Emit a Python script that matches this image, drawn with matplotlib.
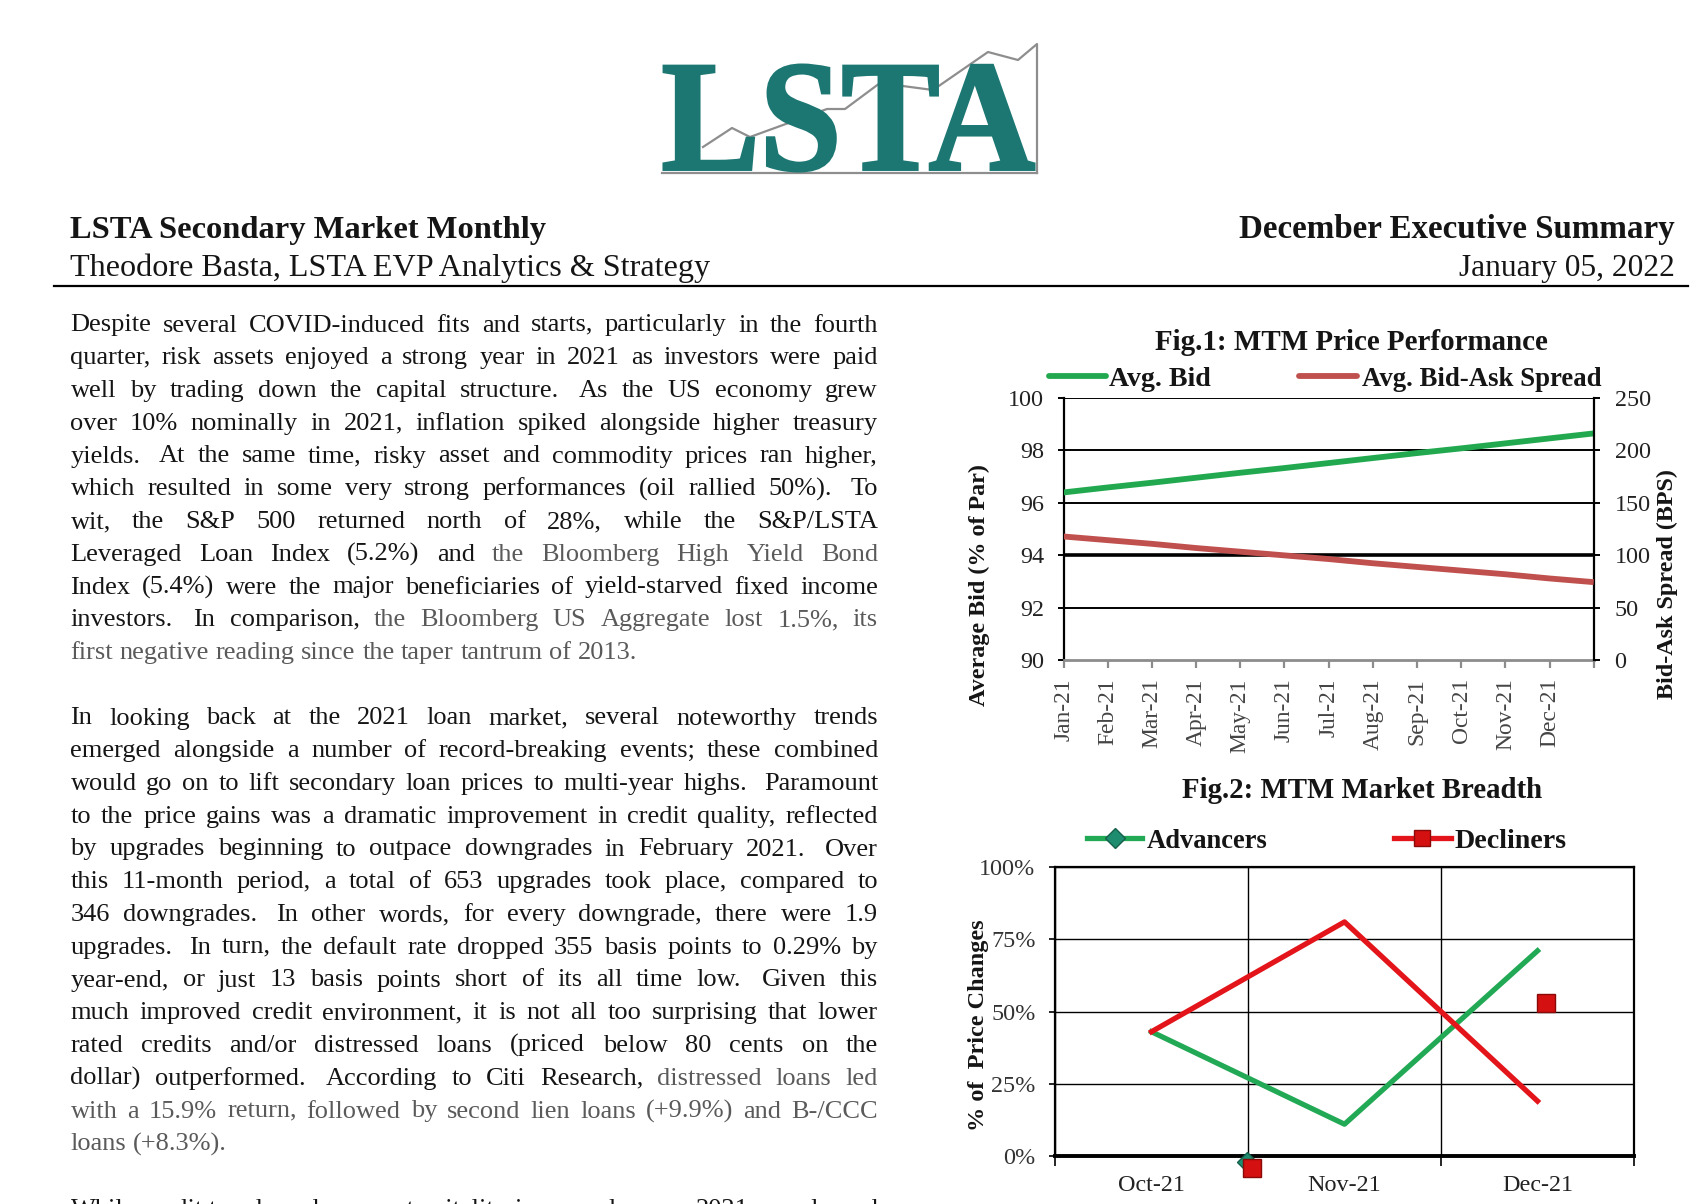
import matplotlib
matplotlib.use('Agg')
import matplotlib.pyplot as plt
from matplotlib.textpath import TextPath
from matplotlib.patches import PathPatch
from matplotlib.font_manager import FontProperties
from matplotlib.transforms import Affine2D
from matplotlib.ticker import PercentFormatter, NullFormatter

# ---------------- data ----------------
fig1_months = ['Jan-21', 'Feb-21', 'Mar-21', 'Apr-21', 'May-21', 'Jun-21', 'Jul-21',
               'Aug-21', 'Sep-21', 'Oct-21', 'Nov-21', 'Dec-21', '']
avg_bid = [96.40, 96.59, 96.77, 96.96, 97.15, 97.33, 97.52, 97.71, 97.90, 98.08, 98.27, 98.46, 98.65]
avg_spread = [118, 114.5, 111, 107, 103.5, 100, 96.5, 92.5, 89, 85.5, 82, 78, 74.5]
fig1_left_ticks = [90, 92, 94, 96, 98, 100]
fig1_right_ticks = [0, 50, 100, 150, 200, 250]

fig2_months = ['Oct-21', 'Nov-21', 'Dec-21']
advancers = [0.43, 0.11, 0.71]
decliners = [0.43, 0.81, 0.19]
fig2_yticks = [0, 0.25, 0.50, 0.75, 1.0]
# misplaced markers visible in the original chart
stray_adv_x, stray_adv_y = [0.495], [-0.021]
stray_dec_x, stray_dec_y = [0.52, 2.045], [-0.042, 0.53]

header_left = ['LSTA Secondary Market Monthly', 'Theodore Basta, LSTA EVP Analytics & Strategy']
header_right = ['December Executive Summary', 'January 05, 2022']
fig1_title = 'Fig.1: MTM Price Performance'
fig2_title = 'Fig.2: MTM Market Breadth'

para1 = [
    "Despite several COVID-induced fits and starts, particularly in the fourth",
    "quarter, risk assets enjoyed a strong year in 2021 as investors were paid",
    "well by trading down the capital structure.  As the US economy grew",
    "over 10% nominally in 2021, inflation spiked alongside higher treasury",
    "yields.  At the same time, risky asset and commodity prices ran higher,",
    "which resulted in some very strong performances (oil rallied 50%).  To",
    "wit, the S&P 500 returned north of 28%, while the S&P/LSTA",
    "Leveraged Loan Index (5.2%) and the Bloomberg High Yield Bond",
    "Index (5.4%) were the major beneficiaries of yield-starved fixed income",
    "investors.  In comparison, the Bloomberg US Aggregate lost 1.5%, its",
    "first negative reading since the taper tantrum of 2013.",
]
para1_gray = {7: 5, 9: 3, 10: 0}
para2 = [
    "In looking back at the 2021 loan market, several noteworthy trends",
    "emerged alongside a number of record-breaking events; these combined",
    "would go on to lift secondary loan prices to multi-year highs.  Paramount",
    "to the price gains was a dramatic improvement in credit quality, reflected",
    "by upgrades beginning to outpace downgrades in February 2021.  Over",
    "this 11-month period, a total of 653 upgrades took place, compared to",
    "346 downgrades.  In other words, for every downgrade, there were 1.9",
    "upgrades.  In turn, the default rate dropped 355 basis points to 0.29% by",
    "year-end, or just 13 basis points short of its all time low.  Given this",
    "much improved credit environment, it is not all too surprising that lower",
    "rated credits and/or distressed loans (priced below 80 cents on the",
    "dollar) outperformed.  According to Citi Research, distressed loans led",
    "with a 15.9% return, followed by second lien loans (+9.9%) and B-/CCC",
    "loans (+8.3%).",
]
para2_gray = {11: 6, 12: 0, 13: 0}
para3 = [
    "While credit trends and corporate vitality improved across 2021, supply and",
]
para3_gray = {}

# ---------------- styling ----------------
W, H, DPI = 1700, 1204, 100
SERIF = ['Liberation Serif', 'DejaVu Serif']
TEAL = '#1c7773'
GREEN1 = '#22a950'
BROWN = '#c0504d'
GREEN2 = '#22a955'
RED = '#e3151b'
TXT = '#151515'
GRAY_TXT = '#5a5a5a'

fig = plt.figure(figsize=(W / DPI, H / DPI), dpi=DPI)
fig.patch.set_facecolor('white')
page = fig.add_axes([0, 0, 1, 1], zorder=0)
page.set_xlim(0, W)
page.set_ylim(H, 0)
page.axis('off')
R = fig.canvas.get_renderer()


def measure(s, fs, weight='normal'):
    t = page.text(0, 0, s, fontsize=fs, family=SERIF, weight=weight)
    w = t.get_window_extent(R).width
    t.remove()
    return w


def fit_size(s, width, weight='normal', fs0=20.0):
    return fs0 * width / measure(s, fs0, weight)


def fit(s, x, y, width, ha='left', va='baseline', weight='normal', color=TXT, rot=0):
    fs = fit_size(s, width, weight)
    return page.text(x, y, s, fontsize=fs, family=SERIF, weight=weight, ha=ha, va=va,
                     color=color, rotation=rot)


def rect(l, t, r, b):
    return [l / W, 1 - b / H, (r - l) / W, (b - t) / H]


# ---------------- logo ----------------
fp = FontProperties(family='Liberation Serif', weight='bold')
tp = TextPath((0, 0), 'LSTA', prop=fp, size=100)
ext = tp.get_extents()
LL, LT, LR, LB = 664, 65, 1034, 171
sx = (LR - LL) / ext.width
sy = (LB - LT) / ext.height
tr = Affine2D().translate(-ext.x0, -ext.y0).scale(sx, -sy).translate(LL, LB) + page.transData
page.add_patch(PathPatch(tp, facecolor=TEAL, edgecolor=TEAL, lw=2.2, transform=tr, zorder=3))
logo_x = [703, 732, 750, 827, 845, 880, 933, 988, 1018, 1037, 1037]
logo_y = [147, 128, 137, 109, 109, 83, 90, 52, 60, 44, 173]
page.plot(logo_x, logo_y, color='#8e8e8e', lw=1.6, zorder=2)
page.plot([662, 1037], [173, 173], color='#8e8e8e', lw=1.6, zorder=2)

# ---------------- header ----------------
fit(header_left[0], 70, 238, 474, weight='bold')
fit(header_left[1], 70, 276, 640)
fit(header_right[0], 1675, 238, 437, ha='right', weight='bold')
fit(header_right[1], 1675, 276, 215, ha='right')
page.plot([54, 1688], [286, 286], color='black', lw=1.6)

# ---------------- body text ----------------
COL_L, COL_R = 70.5, 878.0
COL_W = COL_R - COL_L
LINE_H = 32.75


def split_words(line):
    words, gaps, pending = [], [], 1
    for p in line.split(' '):
        if p == '':
            pending += 1
        else:
            if words:
                gaps.append(pending)
            words.append(p)
            pending = 1
    return words, gaps


def natural_width(line, fs):
    words, gaps = split_words(line)
    sp = 0.25 * fs * DPI / 72
    return sum(measure(w, fs) for w in words) + sum(gaps) * sp


paras = [(para1, para1_gray, 331.5, False), (para2, para2_gray, 724.5, False),
         (para3, para3_gray, 1215.75, True)]
fs0 = 18.0
ratios = []
for lines, _, _, last_just in paras:
    for i, ln in enumerate(lines):
        if i < len(lines) - 1 or last_just:
            ratios.append(COL_W / natural_width(ln, fs0))
BODY_FS = min(fs0 * min(ratios) * 0.995, 19.0)


def draw_line(line, y, justify, gray_from):
    words, gaps = split_words(line)
    sp = 0.25 * BODY_FS * DPI / 72
    texts = []
    for k, w in enumerate(words):
        col = GRAY_TXT if (gray_from is not None and k >= gray_from) else TXT
        texts.append(page.text(0, y, w, fontsize=BODY_FS, family=SERIF, va='baseline', color=col))
    widths = [t.get_window_extent(R).width for t in texts]
    extra = 0.0
    if justify and len(words) > 1:
        extra = (COL_W - sum(widths) - sum(gaps) * sp) / (len(words) - 1)
    x = COL_L
    for k, t in enumerate(texts):
        t.set_x(x)
        if k < len(gaps):
            x += widths[k] + gaps[k] * sp + extra


for lines, gray, y0, last_just in paras:
    for i, ln in enumerate(lines):
        just = (i < len(lines) - 1) or last_just
        draw_line(ln, y0 + i * LINE_H, just, gray.get(i))

# ---------------- Fig.1 ----------------
fit(fig1_title, 1351, 350, 393, ha='center', weight='bold')
page.plot([1049, 1106], [376, 376], color=GREEN1, lw=4.2, solid_capstyle='round')
fit('Avg. Bid', 1109, 386, 102, weight='bold')
page.plot([1299, 1357], [376, 376], color=BROWN, lw=4.2, solid_capstyle='round')
fit('Avg. Bid-Ask Spread', 1362, 386, 240, weight='bold')

tick_fs = fit_size('100', 36)
x1 = list(range(len(avg_bid)))
ax1 = fig.add_axes(rect(1063.6, 398, 1593.7, 660.3))
ax1.plot(x1, avg_bid, color=GREEN1, lw=4.2, solid_capstyle='butt', zorder=4)
ax1.set_xlim(0, len(x1) - 1)
ax1.set_ylim(90, 100)
ax1.set_yticks(fig1_left_ticks)
ax1.set_yticklabels([str(v) for v in fig1_left_ticks], family=SERIF, fontsize=tick_fs, color='#222222')
ax1.set_xticks(x1)
ax1.set_xticklabels(fig1_months, rotation=90, family=SERIF, fontsize=tick_fs * 0.97, color='#444444')
ax1.yaxis.grid(True, color='black', lw=1.4)
gl = ax1.get_ygridlines()
gl[0].set_visible(False)
gl[2].set_linewidth(2.6)
ax1.tick_params(axis='x', length=6, width=1.6, color='#8c8c8c', pad=7)
ax1.tick_params(axis='y', length=4, width=1.4, color='black', pad=10)
ax1.spines['top'].set_visible(False)
ax1.spines['right'].set_visible(False)
ax1.spines['left'].set_color('black')
ax1.spines['left'].set_linewidth(1.6)
ax1.spines['bottom'].set_color('#8c8c8c')
ax1.spines['bottom'].set_linewidth(2.0)

ax1r = ax1.twinx()
ax1r.plot(x1, avg_spread, color=BROWN, lw=4.2, solid_capstyle='butt', zorder=4)
ax1r.set_ylim(0, 250)
ax1r.set_yticks(fig1_right_ticks)
ax1r.set_yticklabels([str(v) for v in fig1_right_ticks], family=SERIF, fontsize=tick_fs, color='#222222')
ax1r.tick_params(axis='y', length=4, width=1.4, color='black', pad=11)
for s in ['top', 'left', 'bottom']:
    ax1r.spines[s].set_visible(False)
ax1r.spines['right'].set_color('black')
ax1r.spines['right'].set_linewidth(1.6)

fit('Average Bid (% of Par)', 979, 585, 243, ha='center', va='center', weight='bold', rot=90)
fit('Bid-Ask Spread (BPS)', 1667, 584, 231, ha='center', va='center', weight='bold', rot=90)

# ---------------- Fig.2 ----------------
fit(fig2_title, 1362, 798, 360, ha='center', weight='bold')
page.plot([1087, 1142], [838, 838], color=GREEN2, lw=3.8)
page.plot([1115], [838], marker='D', ms=10, mfc='#1e8c6e', mec='#14604a', mew=1)
fit('Advancers', 1147, 848, 121, weight='bold')
page.plot([1394, 1451], [838, 838], color=RED, lw=3.8)
page.plot([1422], [838], marker='s', ms=12, mfc='#d41010', mec='#8a0a0a', mew=1)
fit('Decliners', 1455, 848, 112, weight='bold')

tick2_fs = fit_size('100%', 56)
xc = list(range(len(fig2_months)))
ax2 = fig.add_axes(rect(1055, 867, 1634, 1156))
ax2.plot(xc, advancers, color=GREEN2, lw=3.8, zorder=4)
ax2.plot(xc, decliners, color=RED, lw=3.8, zorder=4)
ax2.plot(stray_adv_x, stray_adv_y, ls='none', marker='D', ms=10, mfc='#1e8c6e', mec='#14604a',
         mew=1, clip_on=False, zorder=6)
ax2.plot(stray_dec_x, stray_dec_y, ls='none', marker='s', ms=13, mfc='#d41010', mec='#8a0a0a',
         mew=1, clip_on=False, zorder=7)
ax2.set_xlim(-0.5, len(xc) - 0.5)
ax2.set_ylim(0, 1)
ax2.set_xticks([i - 0.5 for i in range(len(xc) + 1)])
ax2.xaxis.set_major_formatter(NullFormatter())
ax2.set_xticks(xc, minor=True)
ax2.set_xticklabels(fig2_months, minor=True, family=SERIF, fontsize=tick2_fs, color='#222222')
ax2.tick_params(axis='x', which='minor', length=0, pad=14)
ax2.tick_params(axis='x', which='major', length=7, width=1.2, color='black')
ax2.set_yticks(fig2_yticks)
ax2.yaxis.set_major_formatter(PercentFormatter(1.0, decimals=0))
for lab in ax2.get_yticklabels():
    lab.set_family(SERIF)
    lab.set_fontsize(tick2_fs)
    lab.set_color('#333333')
ax2.tick_params(axis='y', length=4, width=1.2, color='black', pad=10)
ax2.xaxis.grid(True, which='major', color='black', lw=1.0)
ax2.yaxis.grid(True, color='black', lw=1.0)
for s in ['top', 'left', 'right']:
    ax2.spines[s].set_color('black')
    ax2.spines[s].set_linewidth(1.6)
ax2.spines['bottom'].set_linewidth(2.8)

fit('% of  Price Changes', 979, 1025, 212, ha='center', va='center', weight='bold', rot=90)

fig.savefig('out.png', dpi=DPI, facecolor='white')
